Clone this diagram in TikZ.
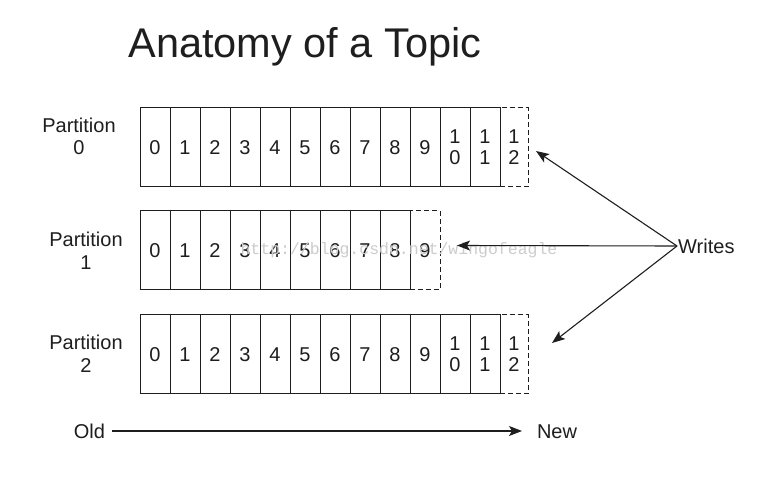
\documentclass[tikz,border=0pt]{standalone}
\usepackage{fontspec}
\setmainfont{Liberation Sans}
\newfontfamily\wmfont{Liberation Mono}
\usetikzlibrary{arrows.meta}
\definecolor{ink}{HTML}{1E1E1E}
\begin{document}
\begin{tikzpicture}[x=1pt,y=-1pt,
  every node/.style={text=ink},
  cellbase/.style={draw=ink,line width=1.1pt,minimum width=30pt,minimum height=79pt,inner sep=0pt,anchor=north west,
    font=\fontsize{20}{21}\selectfont},
  cell/.style={cellbase,text height=14.3pt,text depth=0pt},
  tcell/.style={cellbase,align=center},
  dcell/.style={dashed,dash pattern=on 5pt off 3pt},
  plabel/.style={font=\fontsize{20}{23}\selectfont,align=center,inner sep=0pt},
  arr/.style={draw=ink,line width=1.1pt,-{Stealth[length=13pt,width=10pt,inset=3pt]}},
  lbl/.style={font=\fontsize{20}{23}\selectfont,inner sep=0pt}
]
\useasboundingbox (0,0) rectangle (778,478);
\fill[white] (0,0) rectangle (778,478);

\node[font=\fontsize{41.5}{48}\selectfont,anchor=base,inner sep=0pt] (title) at (305,58) {Anatomy of a Topic};

% Partition 0
\node[tcell,dcell,minimum width=28pt] (p0c12) at (499.5,107) {1\\2};
\foreach \i in {0,...,9}{
  \node[cell] (p0c\i) at (139.5+30*\i,107) {\i};
}
\node[tcell] (p0c10) at (439.5,107) {1\\0};
\node[tcell] (p0c11) at (469.5,107) {1\\1};

% Partition 1
\node[cell,dcell] (p1c9) at (409.5,210) {9};
\foreach \i in {0,...,8}{
  \node[cell] (p1c\i) at (139.5+30*\i,210) {\i};
}

% Partition 2
\node[tcell,dcell,minimum width=28pt] (p2c12) at (499.5,314) {1\\2};
\foreach \i in {0,...,9}{
  \node[cell] (p2c\i) at (139.5+30*\i,314) {\i};
}
\node[tcell] (p2c10) at (439.5,314) {1\\0};
\node[tcell] (p2c11) at (469.5,314) {1\\1};

% labels
\node[plabel,anchor=base] (l0a) at (79,133) {Partition};
\node[plabel,anchor=base] (l0b) at (79,155) {0};
\node[plabel,anchor=base] (l1a) at (86,246) {Partition};
\node[plabel,anchor=base] (l1b) at (86,269) {1};
\node[plabel,anchor=base] (l2a) at (86,349) {Partition};
\node[plabel,anchor=base] (l2b) at (86,372) {2};

% watermark
\node[text=gray!40,font=\wmfont\fontsize{16.5}{18}\selectfont,inner sep=0pt] (wm) at (399,250) {http://blog.csdn.net/wingofeagle};

% writes
\node[lbl,anchor=base west] (writes) at (678,253) {Writes};
\coordinate (wsrc) at (677,246);
\coordinate (t0) at (536,151);
\coordinate (t1) at (457,245.5);
\coordinate (t2) at (552,343);
\draw[arr] (wsrc) -- (t0);
\draw[arr] (wsrc) -- (t1);
\draw[arr] (wsrc) -- (t2);

% old/new
\node[lbl,anchor=base] (old) at (89.5,438) {Old};
\node[lbl,anchor=base] (new) at (557,438) {New};
\coordinate (oldend) at (112,431);
\coordinate (newend) at (522,431);
\draw[arr] (oldend) -- (newend);
\end{tikzpicture}
\end{document}
